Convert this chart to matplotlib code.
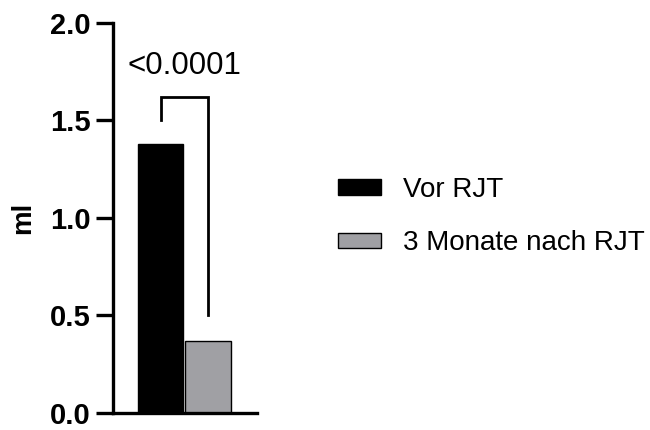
import matplotlib.pyplot as plt

# data
groups = ['Vor RJT', '3 Monate nach RJT']
values = [1.38, 0.37]
colors = ['#000000', '#a0a0a4']
p_text = '<0.0001'
bracket_top = 1.62
bracket_left_low = 1.50
bracket_right_low = 0.50

plt.rcParams['font.family'] = ['Liberation Sans', 'DejaVu Sans']

fig = plt.figure(figsize=(6.5, 4.3), dpi=100)
ax = fig.add_axes([0.174, 0.04, 0.221, 0.9065])

pos = list(range(len(values)))
bars = ax.bar(pos, values, width=0.96, color=colors, edgecolor='black',
              linewidth=1.0, label=groups)

# significance bracket
ax.plot([pos[0], pos[0], pos[1], pos[1]],
        [bracket_left_low, bracket_top, bracket_top, bracket_right_low],
        color='black', lw=2.0, solid_joinstyle='miter', clip_on=False)
ax.text((pos[0] + pos[1]) / 2, 1.70, p_text, ha='center', va='bottom',
        fontsize=22.5)

ax.set_xlim(-0.99, 2.01)
ax.set_ylim(0, 2.0)
ax.set_yticks([0, 0.5, 1.0, 1.5, 2.0])
ax.set_yticklabels(['0.0', '0.5', '1.0', '1.5', '2.0'])
ax.set_xticks([])
for s in ['top', 'right']:
    ax.spines[s].set_visible(False)
for s in ['left', 'bottom']:
    ax.spines[s].set_linewidth(2.4)
ax.tick_params(axis='y', length=12, width=2.4, labelsize=21, pad=4)
for lbl in ax.get_yticklabels():
    lbl.set_fontweight('bold')
ax.set_ylabel('ml', fontsize=20, fontweight='bold', labelpad=10)

fig.legend(handles=bars, labels=groups, loc='center left',
           bbox_to_anchor=(0.52, 0.4965), frameon=False, fontsize=20,
           handlelength=1.55, handleheight=0.5, handletextpad=0.8,
           labelspacing=1.0, borderpad=0, borderaxespad=0)

fig.savefig('out.png', dpi=100)
